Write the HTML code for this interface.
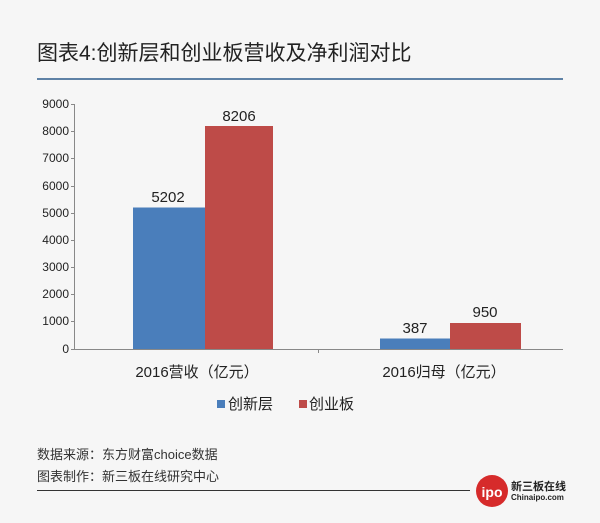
<!DOCTYPE html>
<html><head><meta charset="utf-8"><style>
body{margin:0;background:#f6f6f6;}
svg{display:block;font-family:"Liberation Sans","Noto Sans CJK SC",sans-serif;}
</style></head><body>
<svg width="600" height="523" viewBox="0 0 600 523">
<rect width="600" height="523" fill="#f6f6f6"/>
<text x="37" y="60" font-size="21" fill="#222">图表4:创新层和创业板营收及净利润对比</text>
<line x1="37" y1="79" x2="563" y2="79" stroke="#2d5b8c" stroke-width="1.5"/>
<g font-size="12" fill="#222" text-anchor="end">
<text x="69" y="108">9000</text><text x="69" y="135">8000</text><text x="69" y="162">7000</text>
<text x="69" y="190">6000</text><text x="69" y="217">5000</text><text x="69" y="244">4000</text>
<text x="69" y="271">3000</text><text x="69" y="298">2000</text><text x="69" y="325">1000</text>
<text x="69" y="353">0</text>
</g>
<g stroke="#888" stroke-width="1">
<line x1="74.5" y1="104" x2="74.5" y2="349"/>
<line x1="71" y1="104.5" x2="75" y2="104.5"/><line x1="71" y1="131.5" x2="75" y2="131.5"/>
<line x1="71" y1="158.5" x2="75" y2="158.5"/><line x1="71" y1="186.5" x2="75" y2="186.5"/>
<line x1="71" y1="213.5" x2="75" y2="213.5"/><line x1="71" y1="240.5" x2="75" y2="240.5"/>
<line x1="71" y1="267.5" x2="75" y2="267.5"/><line x1="71" y1="294.5" x2="75" y2="294.5"/>
<line x1="71" y1="321.5" x2="75" y2="321.5"/>
<line x1="71" y1="349.5" x2="563" y2="349.5"/>
<line x1="318.5" y1="349" x2="318.5" y2="353"/>
</g>
<rect x="133" y="207.5" width="72" height="141.5" fill="#4a7ebb"/>
<rect x="205" y="126" width="68" height="223" fill="#be4b48"/>
<rect x="380" y="338.5" width="70" height="10.5" fill="#4a7ebb"/>
<rect x="450" y="323" width="71" height="26" fill="#be4b48"/>
<g font-size="15" fill="#222" text-anchor="middle">
<text x="168" y="202">5202</text><text x="239" y="121">8206</text>
<text x="415" y="333">387</text><text x="485" y="317">950</text>
</g>
<g font-size="15" fill="#222" text-anchor="middle">
<text x="197" y="377">2016营收（亿元）</text>
<text x="444" y="377">2016归母（亿元）</text>
</g>
<rect x="217" y="400" width="8" height="8" fill="#4a7ebb"/>
<text x="228" y="409" font-size="15" fill="#222">创新层</text>
<rect x="299" y="400" width="8" height="8" fill="#be4b48"/>
<text x="309" y="409" font-size="15" fill="#222">创业板</text>
<text x="37" y="459" font-size="13" fill="#333">数据来源：东方财富choice数据</text>
<text x="37" y="481" font-size="13" fill="#333">图表制作：新三板在线研究中心</text>
<line x1="37" y1="490.5" x2="470" y2="490.5" stroke="#333" stroke-width="1"/>
<circle cx="492" cy="491" r="16" fill="#d62b2b"/>
<text x="492" y="497" font-size="14" font-weight="bold" fill="#fff" text-anchor="middle">ipo</text>
<text x="511" y="490" font-size="11" font-weight="bold" fill="#222">新三板在线</text>
<text x="511" y="500" font-size="8" font-weight="bold" fill="#222">Chinaipo.com</text>
</svg>
</body></html>
